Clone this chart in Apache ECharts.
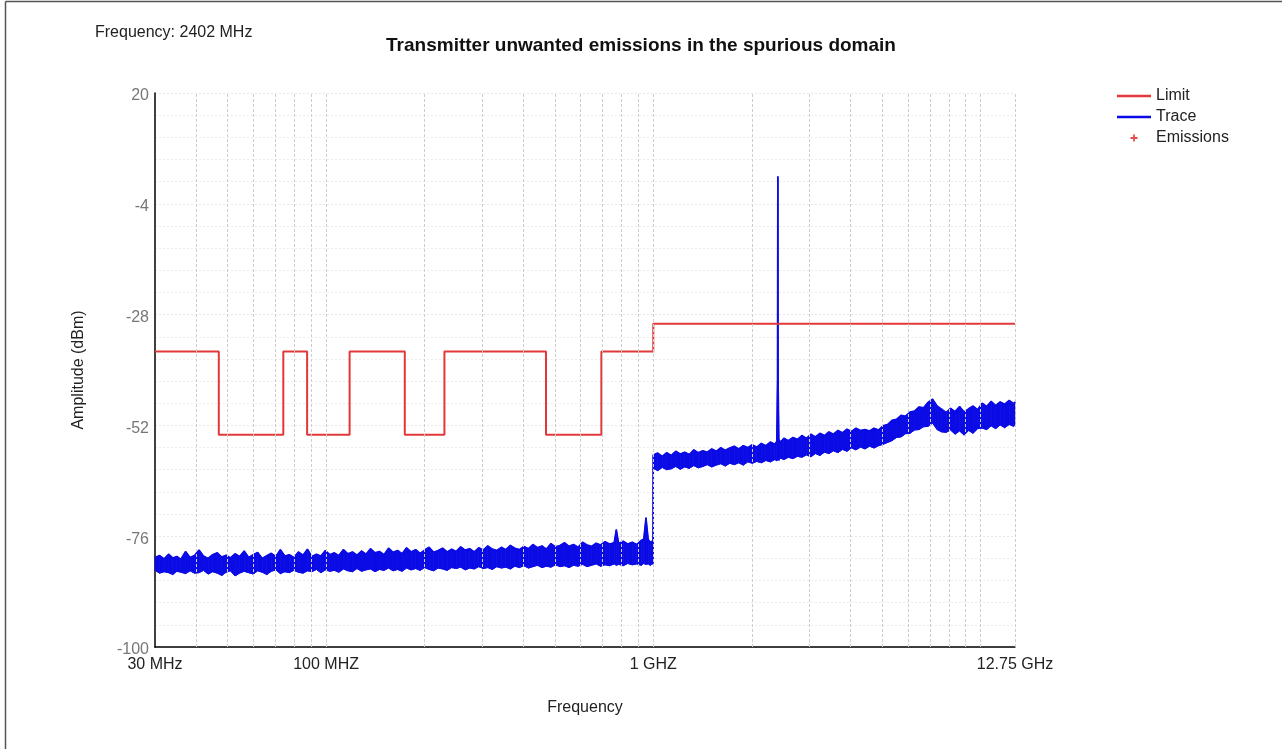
<!DOCTYPE html>
<html><head><meta charset="utf-8">
<script src="https://cdn.jsdelivr.net/npm/echarts@6/dist/echarts.min.js"></script>
<style>html,body{margin:0;padding:0;background:#fff}#c{width:1282px;height:749px}</style>
</head><body><div id="c"></div>
<script>
const chartTitle = 'Transmitter unwanted emissions in the spurious domain';
const subTitle = 'Frequency: 2402 MHz';
const xAxisName = 'Frequency';
const yAxisName = 'Amplitude (dBm)';
const seriesNames = ['Limit', 'Trace', 'Emissions'];
// x tick labels (MHz -> label)
const xTickValues = [30, 100, 1000, 12750];
const xTickLabels = ['30 MHz', '100 MHZ', '1 GHZ', '12.75 GHz'];
// y axis ticks
const yMin = -100, yMax = 20, yInterval = 24;
// vertical grid frequencies (MHz)
const gridFreqs = [40, 50, 60, 70, 80, 90, 100, 200, 300, 400, 500, 600, 700, 800, 900, 1000,
  2000, 3000, 4000, 5000, 6000, 7000, 8000, 9000, 10000, 12750];
// limit mask: [start frequency MHz, level dBm]
const limitSteps = [[30, -36], [47, -54], [74, -36], [87.5, -54], [118, -36], [174, -54],
  [230, -36], [470, -54], [694, -36], [1000, -30], [12750, -30]];
// measured trace envelope: [frequency MHz, min dBm, max dBm]
const traceEnvelope = [
  [30, -83.4, -80.6], [31, -84.0, -80.2], [32, -83.7, -80.9], [33, -83.9, -79.9], [34, -84.3, -80.7],
  [35, -83.6, -80.4], [36, -83.8, -81.0], [37.2, -84.1, -79.3], [38.4, -83.5, -80.6], [39.6, -84.0, -80.2],
  [40.9, -83.9, -79.0], [42.2, -83.4, -80.3], [43.6, -84.2, -80.8], [45, -83.7, -80.0], [46.5, -84.0, -79.6],
  [48, -84.5, -80.5], [49.5, -83.8, -80.1], [51, -83.5, -80.7], [52.7, -84.6, -79.8], [54.4, -84.0, -80.4],
  [56.2, -83.6, -79.2], [58, -83.9, -80.6], [59.9, -84.2, -80.0], [61.8, -83.5, -79.5], [63.8, -83.8, -80.8],
  [65.9, -84.3, -80.2], [68, -83.6, -79.7], [70.2, -83.3, -80.4], [72.5, -84.1, -78.9], [74.8, -83.7, -80.3],
  [77.2, -83.9, -80.0], [79.7, -83.4, -80.6], [82.3, -83.8, -79.4], [85, -84.0, -80.1], [87.7, -83.5, -78.8],
  [90.5, -83.7, -80.4], [93.4, -83.2, -79.9], [96.4, -83.9, -80.3], [99.5, -83.3, -79.1], [102.7, -83.6, -80.0],
  [106, -83.4, -79.6], [109.4, -83.8, -80.2], [113, -83.1, -78.9], [116.6, -83.5, -79.8], [120.4, -83.7, -79.4],
  [124.3, -83.0, -80.1], [128.3, -83.6, -79.2], [132.4, -83.3, -79.9], [136.7, -83.1, -78.7], [141.1, -83.7, -79.6],
  [145.6, -83.2, -79.3], [150.3, -83.4, -80.0], [155.2, -82.9, -78.6], [160.2, -83.5, -79.5], [165.4, -83.2, -79.1],
  [170.7, -83.6, -79.8], [176.2, -82.9, -78.5], [181.9, -83.3, -79.4], [187.8, -83.0, -78.9], [193.8, -83.4, -79.7],
  [200, -82.8, -79.0], [206.5, -83.2, -78.4], [213.2, -83.5, -79.5], [220, -82.9, -79.1], [227.1, -83.1, -78.6],
  [234.5, -83.4, -79.4], [242, -82.8, -78.8], [249.8, -83.0, -79.3], [257.9, -82.7, -78.3], [266.2, -83.3, -79.0],
  [274.8, -82.9, -78.7], [283.7, -83.1, -79.4], [292.8, -82.6, -78.5], [302.3, -83.0, -79.0], [312, -82.8, -78.1],
  [322.1, -83.2, -78.8], [332.5, -82.6, -79.1], [343.2, -82.9, -78.4], [354.3, -82.7, -78.9], [365.7, -83.1, -78.0],
  [377.5, -82.5, -78.6], [389.7, -82.8, -78.9], [402.3, -82.4, -78.2], [415.3, -82.9, -78.7], [428.7, -82.6, -77.8],
  [442.5, -82.3, -78.5], [456.8, -82.8, -78.1], [471.5, -82.5, -78.8], [486.7, -82.7, -77.6], [502.4, -82.2, -78.3],
  [518.6, -82.6, -78.0], [535.4, -82.4, -77.4], [552.7, -82.8, -78.2], [570.5, -82.3, -77.8], [588.9, -82.5, -78.4],
  [607.9, -82.1, -77.3], [627.5, -82.6, -77.9], [647.8, -82.3, -78.2], [668.7, -82.0, -77.5], [690.3, -82.5, -77.9],
  [712.5, -82.2, -77.2], [735.5, -82.4, -77.7], [759.3, -82.0, -77.4], [771, -82.3, -74.6], [783.8, -82.1, -77.6],
  [809.1, -82.4, -77.1], [835.2, -81.9, -77.7], [862.2, -82.2, -77.3], [890, -82.0, -77.8], [918.7, -82.3, -76.9],
  [935, -81.9, -76.6], [950, -82.1, -72.0], [965, -82.0, -76.7], [979, -82.3, -77.3], [999, -81.9, -77.0],
  [1000, -61.3, -58.4], [1032, -61.8, -58.0], [1065, -61.1, -58.7], [1099, -61.6, -57.9], [1135, -61.4, -58.5],
  [1171, -60.9, -57.6], [1209, -61.5, -58.2], [1248, -61.0, -57.8], [1288, -61.3, -58.3], [1330, -60.7, -57.3],
  [1372, -61.2, -57.9], [1417, -60.9, -57.5], [1462, -60.5, -57.8], [1509, -61.0, -57.1], [1558, -60.6, -57.6],
  [1608, -60.3, -56.8], [1660, -60.8, -57.4], [1713, -60.2, -56.9], [1768, -60.5, -56.5], [1825, -60.1, -57.1],
  [1884, -60.6, -56.4], [1945, -59.9, -56.8], [2007, -60.2, -56.2], [2072, -59.8, -56.7], [2139, -60.1, -55.9],
  [2208, -59.6, -56.4], [2279, -59.9, -55.6], [2352, -59.4, -56.1], [2385, -59.7, -55.4], [2397, -59.5, -42.0],
  [2402, -59.4, 1.9], [2407, -59.2, -42.0], [2420, -59.6, -55.1], [2450, -59.1, -55.6], [2507, -59.4, -54.8],
  [2588, -58.9, -55.3], [2671, -59.2, -54.6], [2757, -58.7, -55.0], [2846, -58.9, -54.2], [2938, -58.4, -54.8],
  [3032, -58.8, -53.9], [3130, -58.1, -54.5], [3231, -58.5, -53.7], [3335, -57.8, -54.2], [3442, -58.1, -53.4],
  [3553, -57.5, -53.9], [3668, -57.9, -53.1], [3786, -57.2, -53.6], [3908, -57.6, -52.8], [4034, -56.9, -53.3],
  [4164, -57.3, -52.6], [4298, -56.7, -53.1], [4437, -57.1, -52.9], [4580, -56.5, -53.2], [4727, -56.9, -52.6],
  [4879, -56.4, -53.0], [5036, -56.1, -52.1], [5198, -55.7, -51.8], [5366, -55.3, -50.9], [5539, -54.6, -50.7],
  [5717, -54.5, -49.8], [5901, -53.8, -50.0], [6091, -53.7, -49.1], [6288, -53.0, -48.9], [6490, -52.9, -48.0],
  [6699, -52.3, -48.2], [6915, -52.2, -47.0], [7138, -51.5, -46.3], [7368, -52.9, -47.8], [7605, -53.4, -48.5],
  [7850, -53.5, -49.2], [8103, -53.0, -48.3], [8364, -53.9, -49.0], [8633, -53.2, -47.9], [8912, -54.1, -49.1],
  [9199, -53.1, -48.4], [9495, -53.7, -47.8], [9801, -52.7, -48.6], [10117, -52.6, -47.2], [10443, -52.9, -47.9],
  [10780, -52.1, -46.8], [11127, -52.7, -47.7], [11486, -51.9, -46.9], [11856, -52.5, -47.4], [12238, -51.8, -46.6],
  [12632, -52.2, -47.3], [12750, -51.7, -46.9]
];
// emission markers (none flagged)
const emissions = [];

const FONT = "'Liberation Sans', Arial, sans-serif";
const BLUE = '#0b0be6';
const RED = '#e2383a';
const lineIcon = 'path://M0,0H34V2.6H0Z';
const plusIcon = 'path://M2.6,0H4.4V2.6H7V4.4H4.4V7H2.6V4.4H0V2.6H2.6Z';

const chart = echarts.init(document.getElementById('c'), null, {renderer: 'canvas'});
chart.setOption({
  animation: false,
  backgroundColor: '#fff',
  textStyle: {fontFamily: FONT},
  title: [
    {text: chartTitle, left: 'center', top: 31,
     textStyle: {fontSize: 19, fontWeight: 'bold', color: '#111', fontFamily: FONT}},
    {text: subTitle, left: 90, top: 20,
     textStyle: {fontSize: 16, fontWeight: 'normal', color: '#222', fontFamily: FONT}}
  ],
  legend: {
    orient: 'vertical', left: 1112, top: 83,
    itemWidth: 34, itemHeight: 7, itemGap: 5,
    textStyle: {fontSize: 16, color: '#222', fontFamily: FONT},
    data: [
      {name: seriesNames[0], icon: lineIcon},
      {name: seriesNames[1], icon: lineIcon},
      {name: seriesNames[2], icon: plusIcon}
    ]
  },
  graphic: [
    {type: 'line', silent: true, shape: {x1: 5.5, y1: 1.5, x2: 1282, y2: 1.5}, style: {stroke: '#555', lineWidth: 1.5}},
    {type: 'line', silent: true, shape: {x1: 5.5, y1: 1.5, x2: 5.5, y2: 749}, style: {stroke: '#555', lineWidth: 1.5}}
  ],
  grid: {left: 155, right: 267, top: 93, bottom: 102},
  xAxis: {
    type: 'log', logBase: 10, min: 30, max: 12750,
    name: xAxisName, nameLocation: 'middle', nameGap: 53,
    nameTextStyle: {fontSize: 16, color: '#222', fontFamily: FONT},
    axisLine: {show: true, onZero: false, lineStyle: {color: '#000', width: 1.5}},
    axisTick: {show: false},
    splitLine: {show: false},
    axisLabel: {
      show: true, color: '#222', fontSize: 16, margin: 10, showMinLabel: true, showMaxLabel: true,
      formatter: function (v) {
        for (let i = 0; i < xTickValues.length; i++) {
          if (Math.abs(v - xTickValues[i]) / xTickValues[i] < 0.001) return xTickLabels[i];
        }
        return '';
      }
    }
  },
  yAxis: {
    type: 'value', min: yMin, max: yMax, interval: yInterval,
    name: yAxisName, nameLocation: 'middle', nameGap: 68,
    nameTextStyle: {fontSize: 16, color: '#222', fontFamily: FONT},
    axisLine: {show: true, onZero: false, lineStyle: {color: '#000', width: 1.5}},
    axisTick: {show: false},
    axisLabel: {color: '#777', fontSize: 16, margin: 6, verticalAlign: 'top', lineHeight: 6},
    splitLine: {show: true, lineStyle: {color: '#e6e6e6', type: [2, 2], width: 1}},
    minorTick: {show: false, splitNumber: 5},
    minorSplitLine: {show: true, lineStyle: {color: '#ececec', type: [2, 2], width: 1}}
  },
  series: [
    {
      name: 'vgrid', type: 'line', data: [], z: 1, silent: true,
      markLine: {
        silent: true, symbol: ['none', 'none'], label: {show: false}, animation: false,
        lineStyle: {color: '#cdcdcd', type: [3, 2], width: 1},
        emphasis: {disabled: true},
        data: gridFreqs.map(f => ({xAxis: f}))
      }
    },
    {
      name: seriesNames[1], type: 'custom', z: 3, silent: true,
      coordinateSystem: 'cartesian2d',
      data: traceEnvelope,
      encode: {x: 0, y: [1, 2]},
      color: BLUE,
      renderItem: function (params, api) {
        const i = params.dataIndexInside;
        if (i >= params.dataInsideLength - 1) return null;
        const p1 = api.coord([api.value(0, i), api.value(1, i)]);
        const p2 = api.coord([api.value(0, i + 1), api.value(1, i + 1)]);
        const p3 = api.coord([api.value(0, i + 1), api.value(2, i + 1)]);
        const p4 = api.coord([api.value(0, i), api.value(2, i)]);
        return {
          type: 'polygon',
          shape: {points: [p1, p2, p3, p4]},
          style: {fill: BLUE, stroke: BLUE, lineWidth: 0.8}
        };
      }
    },
    {
      name: seriesNames[1], type: 'line', z: 3,
      data: traceEnvelope.map(r => [r[0], r[1]]),
      symbol: 'none', showSymbol: false, sampling: null,
      color: BLUE, lineStyle: {color: BLUE, width: 1}
    },
    {
      name: seriesNames[1], type: 'line', z: 3,
      data: traceEnvelope.map(r => [r[0], r[2]]),
      symbol: 'none', showSymbol: false, sampling: null,
      color: BLUE, lineStyle: {color: BLUE, width: 1.6}
    },
    {
      name: seriesNames[0], type: 'line', step: 'end', z: 4,
      data: limitSteps,
      symbol: 'none', showSymbol: false,
      color: RED, lineStyle: {color: RED, width: 2}
    },
    {
      name: seriesNames[2], type: 'scatter', z: 5,
      data: emissions, symbol: plusIcon, symbolSize: 8,
      color: '#e02020'
    }
  ]
});
</script>
</body></html>
